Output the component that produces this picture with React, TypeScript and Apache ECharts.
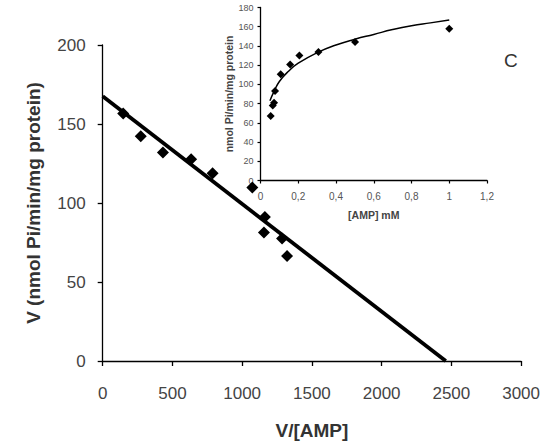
import React, { useEffect, useRef } from "react";
import * as echarts from "echarts";

// Main plot (Eadie-Hofstee): V/[AMP] vs V
const mainX = [147, 273, 432, 634, 788, 1073, 1163, 1156, 1286, 1322];
const mainY = [156.7, 142.2, 131.9, 127.7, 118.9, 109.8, 91.2, 81.3, 77.6, 66.4];
const fitX = [0, 2460];
const fitY = [167.5, 0];

// Inset: [AMP] mM vs V
const insetX = [0.054, 0.065, 0.072, 0.077, 0.107, 0.157, 0.206, 0.307, 0.501, 1.0];
const insetY = [67, 78, 81, 93, 110.6, 120.6, 130, 133.7, 144, 158];
const curveX = [0.05, 0.07, 0.1, 0.15, 0.2, 0.3, 0.4, 0.5, 0.6, 0.7, 0.8, 0.9, 1.0];
const curveY = [83, 92, 103, 114, 122, 133, 141, 147, 152, 157, 161, 164, 167];

const panelLabel = "C";
const mainXName = "V/[AMP]";
const mainYName = "V (nmol Pi/min/mg protein)";
const insetXName = "[AMP] mM";
const insetYName = "nmol Pi/min/mg protein";

const FONT = "'Liberation Sans', Arial, sans-serif";

export default function App() {
  const ref = useRef<HTMLDivElement>(null);
  useEffect(() => {
    if (!ref.current) return;
    const chart = echarts.init(ref.current, undefined, { renderer: "svg" });
    const zip = (xs: number[], ys: number[]) => xs.map((x, i) => [x, ys[i]]);
    chart.setOption({
      animation: false,
      backgroundColor: "#fff",
      textStyle: { fontFamily: FONT },
      title: {
        text: panelLabel,
        left: 499,
        top: 46,
        textStyle: { fontSize: 19, fontWeight: "normal", color: "#333", fontFamily: FONT },
      },
      grid: [
        { left: 102.7, top: 45, width: 421.3, height: 323, containLabel: false },
        { left: 260.5, top: 7.5, width: 226.5, height: 173, containLabel: false },
      ],
      xAxis: [
        {
          gridIndex: 0,
          type: "value",
          min: 0,
          max: 3000,
          interval: 500,
          name: mainXName,
          nameLocation: "middle",
          nameGap: 60,
          nameTextStyle: { fontSize: 19, fontWeight: "bold", color: "#333", fontFamily: FONT },
          axisLine: { lineStyle: { color: "#000", width: 1.3 } },
          axisTick: { show: true, length: 5, lineStyle: { color: "#000", width: 1.3 } },
          axisLabel: {
            fontSize: 17,
            color: "#444",
            margin: 24,
            fontFamily: FONT,
            formatter: (v: number) => String(v),
          },
          splitLine: { show: false },
        },
        {
          gridIndex: 1,
          type: "value",
          min: 0,
          max: 1.2,
          interval: 0.2,
          name: insetXName,
          nameLocation: "middle",
          nameGap: 29,
          nameTextStyle: { fontSize: 10.5, fontWeight: "bold", color: "#444", fontFamily: FONT },
          axisLine: { onZero: false, lineStyle: { color: "#000", width: 1.3 } },
          axisTick: { show: true, length: 3, lineStyle: { color: "#000", width: 1.2 } },
          axisLabel: {
            fontSize: 10,
            color: "#555",
            margin: 11,
            fontFamily: FONT,
            formatter: (v: number) => String(Math.round(v * 10) / 10).replace(".", ","),
          },
          splitLine: { show: false },
        },
      ],
      yAxis: [
        {
          gridIndex: 0,
          type: "value",
          min: 0,
          max: 200,
          interval: 50,
          name: mainYName,
          nameLocation: "middle",
          nameGap: 60,
          nameTextStyle: { fontSize: 19, fontWeight: "bold", color: "#333", fontFamily: FONT },
          axisLine: { show: true, lineStyle: { color: "#000", width: 1.3 } },
          axisTick: { show: true, length: 5, lineStyle: { color: "#000", width: 1.3 } },
          axisLabel: { fontSize: 17, color: "#444", margin: 17, fontFamily: FONT },
          splitLine: { show: false },
        },
        {
          gridIndex: 1,
          type: "value",
          min: 0,
          max: 180,
          interval: 20,
          name: insetYName,
          nameLocation: "middle",
          nameGap: 24,
          nameTextStyle: { fontSize: 10.5, fontWeight: "bold", color: "#444", fontFamily: FONT },
          axisLine: { show: true, onZero: false, lineStyle: { color: "#000", width: 1.3 } },
          axisTick: { show: true, length: 3, lineStyle: { color: "#000", width: 1.2 } },
          axisLabel: { fontSize: 9, color: "#555", margin: 7, fontFamily: FONT },
          splitLine: { show: false },
        },
      ],
      series: [
        {
          type: "line",
          xAxisIndex: 0,
          yAxisIndex: 0,
          data: zip(fitX, fitY),
          showSymbol: false,
          symbol: "none",
          lineStyle: { color: "#000", width: 3.8 },
          z: 2,
        },
        {
          type: "scatter",
          xAxisIndex: 0,
          yAxisIndex: 0,
          data: zip(mainX, mainY),
          symbol: "diamond",
          symbolSize: 12,
          itemStyle: { color: "#000", opacity: 1 },
          z: 3,
        },
        {
          type: "line",
          xAxisIndex: 1,
          yAxisIndex: 1,
          data: zip(curveX, curveY),
          showSymbol: false,
          symbol: "none",
          smooth: true,
          lineStyle: { color: "#000", width: 1.5 },
          z: 4,
        },
        {
          type: "scatter",
          xAxisIndex: 1,
          yAxisIndex: 1,
          data: zip(insetX, insetY),
          symbol: "diamond",
          symbolSize: 8,
          itemStyle: { color: "#000", opacity: 1 },
          z: 5,
        },
      ],
    });
    return () => chart.dispose();
  }, []);
  return (
    <div
      ref={ref}
      style={{ position: "absolute", left: 0, top: 0, width: 543, height: 445 }}
    />
  );
}
